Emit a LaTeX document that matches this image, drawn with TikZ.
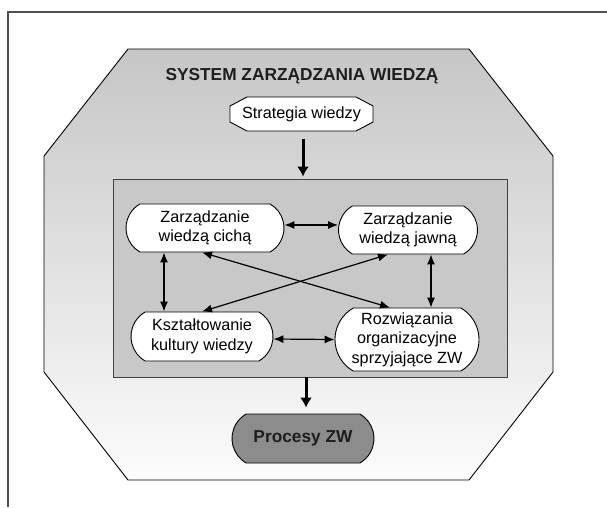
\documentclass[tikz,border=0pt]{standalone}
\usepackage{fontspec}
\setmainfont{Liberation Sans}
\usetikzlibrary{arrows.meta,calc,shapes.misc}
\definecolor{panelgray}{HTML}{C8C8C8}
\definecolor{octtop}{HTML}{C6C6C6}
\definecolor{octmid}{HTML}{D8D8D8}
\definecolor{octbot}{HTML}{FCFCFC}
\definecolor{procgray}{HTML}{8C8C8C}
\definecolor{framegray}{HTML}{505050}
\definecolor{titlecol}{HTML}{1E1E1E}
\begin{document}
\begin{tikzpicture}[x=1pt,y=-1pt,
  pill/.style={rounded rectangle,rounded rectangle arc length=120},
  topic/.style={pill,draw=black,line width=0.9pt,fill=white,align=center,
    font=\fontsize{16.2}{19.5}\selectfont,inner sep=0pt},
  link/.style={line width=1.2pt,{Latex[length=10pt,width=8pt]}-{Latex[length=10pt,width=8pt]}},
  flow/.style={line width=3pt,-{Latex[length=10pt,width=12pt]}},
  boldlabel/.style={font=\fontsize{17.3}{20}\selectfont\bfseries,text=titlecol},
]
\useasboundingbox (0,0) rectangle (607,507);
% outer frame
\draw[framegray,line width=1.2pt] (8,507) -- (8,12) -- (607,12);
% octagon
\shadedraw[top color=octtop,middle color=octmid,bottom color=octbot,draw=black,line width=0.9pt]
  (128,49) -- (469,49) -- (553,156) -- (553,372) -- (469,480) -- (128,480) -- (44,372) -- (44,156) -- cycle;
% title
\node[boldlabel,anchor=base,inner sep=0pt] (title) at (302,80) {SYSTEM ZARZĄDZANIA WIEDZĄ};
% strategy box
\filldraw[fill=white,draw=black,line width=0.9pt]
  (247,97) -- (356,97) -- (373,106) -- (373,122) -- (356,131) -- (247,131) -- (230,122) -- (230,106) -- cycle;
\node[minimum width=143pt,minimum height=34pt,inner sep=0pt,font=\fontsize{16.2}{19.5}\selectfont] (s) at (301.5,114) {Strategia wiedzy};
% panel
\node[draw=black!75,fill=panelgray,line width=0.9pt,minimum width=394pt,minimum height=198pt,inner sep=0pt] (panel) at (310,278) {};
% topics
\node[topic,minimum width=158pt,minimum height=48pt] (zwc) at (205,228) {Zarządzanie\\wiedzą cichą};
\node[topic,minimum width=139pt,minimum height=48pt] (zwj) at (408,230) {Zarządzanie\\wiedzą jawną};
\node[topic,minimum width=142pt,minimum height=49pt] (kkw) at (202,336.5) {Kształtowanie\\kultury wiedzy};
\node[topic,minimum width=144pt,minimum height=63pt] (roz) at (407,339.5) {Rozwiązania\\organizacyjne\\sprzyjające ZW};
% processes
\node[pill,draw=black,line width=0.9pt,fill=procgray,minimum width=142pt,minimum height=49pt,inner sep=0pt,boldlabel] (proc) at (303,438.5) {Procesy ZW};
% links
\draw[link] ([yshift=3pt]zwc.east) -- ([yshift=5pt]zwj.west);
\draw[link] ([xshift=-41pt]zwc.south) -- ([xshift=-38pt]kkw.north);
\draw[link] ([xshift=23pt]zwj.south) -- ([xshift=24pt]roz.north);
\draw[link] ([yshift=-2.5pt]kkw.east) -- (roz.west);
\draw[link] ([xshift=-3pt]zwc.south) -- ([xshift=-17pt]roz.north);
\draw[link] ([xshift=-20pt]zwj.south) -- (kkw.north);
% flows
\draw[flow] ([xshift=1.5pt,yshift=-8pt]s.south) -- ([xshift=-7pt,yshift=2pt]panel.north);
\draw[flow] ([xshift=-4pt]panel.south) -- ([xshift=3pt,yshift=6pt]proc.north);
\end{tikzpicture}
\end{document}
